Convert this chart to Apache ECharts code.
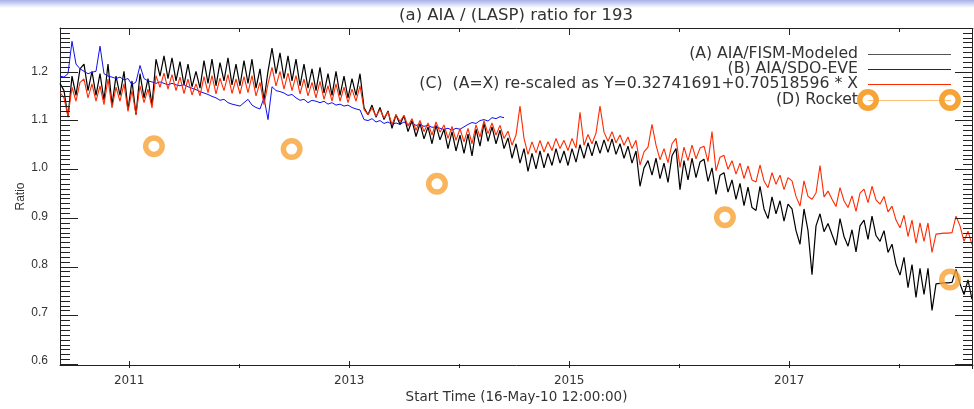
<!DOCTYPE html>
<html>
<head>
<meta charset="utf-8">
<script src="https://cdn.jsdelivr.net/npm/echarts@6/dist/echarts.min.js"></script>
<style>
  html, body { margin: 0; padding: 0; background: #ffffff; }
  #chart { width: 974px; height: 409px; }
</style>
</head>
<body>
<div id="chart"></div>
<script>
// Time base: decimal years, first sample at 16-May-2010 12:00:00
const START_YEAR = 2010.3712;
const STEP_YEARS = 0.036364;          // ~13.3 day cadence of the ratio series
const X_MIN = 2010.3712;
const X_MAX = 2018.6712;
const Y_MIN = 0.592;
const Y_MAX = 1.2896;

// (A) AIA / FISM-modeled ratio
const fismRatio = [
  1.175,1.160,1.105,1.190,1.150,1.205,1.215,1.160,1.200,1.150,
  1.195,1.140,1.215,1.130,1.190,1.150,1.200,1.120,1.180,1.110,
  1.195,1.145,1.185,1.130,1.225,1.190,1.232,1.185,1.228,1.180,
  1.220,1.172,1.215,1.168,1.200,1.165,1.222,1.175,1.225,1.170,
  1.218,1.180,1.228,1.172,1.215,1.170,1.222,1.175,1.225,1.165,
  1.205,1.140,1.200,1.248,1.195,1.238,1.185,1.232,1.180,1.225,
  1.170,1.215,1.165,1.205,1.160,1.208,1.155,1.195,1.150,1.200,
  1.150,1.190,1.145,1.185,1.150,1.195,1.125,1.110,1.130,1.105,
  1.125,1.100,1.118,1.082,1.110,1.090,1.108,1.075,1.098,1.065,
  1.092,1.060,1.085,1.050,1.088,1.058,1.080,1.040,1.075,1.035,
  1.068,1.030,1.070,1.025,1.080,1.045,1.092,1.055,1.085,1.050,
  1.078,1.040,1.062,1.020,1.050,1.010,1.040,0.993,1.030,0.998,
  1.035,1.000,1.030,1.005,1.040,1.010,1.035,1.005,1.040,1.012,
  1.048,1.020,1.052,1.025,1.056,1.030,1.058,1.032,1.060,1.028,
  1.050,1.020,1.045,1.010,1.035,0.962,1.000,1.015,0.985,1.020,
  0.978,1.010,0.970,1.025,1.040,0.955,1.015,0.975,1.020,0.980,
  1.012,1.018,0.972,1.000,0.945,0.985,0.990,0.950,0.975,0.935,
  0.968,0.922,0.960,0.918,0.912,0.962,0.915,0.895,0.940,0.905,
  0.932,0.890,0.925,0.915,0.870,0.842,0.915,0.870,0.779,0.880,
  0.905,0.868,0.885,0.862,0.840,0.895,0.858,0.838,0.872,0.826,
  0.880,0.892,0.852,0.900,0.860,0.848,0.870,0.825,0.842,0.800,
  0.778,0.815,0.752,0.800,0.732,0.792,0.738,0.792,0.705,0.760,
  0.761,0.762,0.762,0.763,0.790,0.760,0.738,0.768,0.728
];

// (B) AIA / SDO-EVE ratio (ends May 2014)
const eveRatio = [
  1.190,1.188,1.195,1.262,1.215,1.205,1.200,1.195,1.198,1.200,
  1.252,1.195,1.190,1.188,1.185,1.188,1.182,1.185,1.172,1.178,
  1.212,1.185,1.180,1.178,1.175,1.178,1.175,1.172,1.175,1.172,
  1.170,1.172,1.168,1.165,1.162,1.158,1.155,1.152,1.148,1.145,
  1.140,1.142,1.135,1.132,1.130,1.128,1.135,1.142,1.130,1.125,
  1.122,1.145,1.100,1.168,1.160,1.158,1.155,1.150,1.152,1.145,
  1.140,1.142,1.135,1.140,1.138,1.135,1.138,1.132,1.135,1.130,
  1.132,1.128,1.130,1.125,1.122,1.120,1.100,1.098,1.102,1.095,
  1.098,1.092,1.095,1.090,1.093,1.090,1.095,1.090,1.093,1.088,
  1.090,1.086,1.088,1.084,1.085,1.082,1.080,1.082,1.078,1.082,
  1.080,1.085,1.090,1.094,1.092,1.098,1.100,1.097,1.104,1.102,
  1.106,1.104
];

// (C) re-scaled ratio
const rescaledRatio = [
  1.156,1.145,1.107,1.167,1.138,1.177,1.184,1.145,1.174,1.138,
  1.170,1.131,1.184,1.124,1.167,1.138,1.174,1.117,1.160,1.110,
  1.170,1.135,1.163,1.124,1.191,1.167,1.196,1.163,1.193,1.160,
  1.188,1.154,1.184,1.151,1.174,1.149,1.189,1.156,1.191,1.153,
  1.186,1.160,1.193,1.154,1.184,1.153,1.189,1.156,1.191,1.149,
  1.177,1.131,1.174,1.208,1.170,1.200,1.163,1.196,1.160,1.191,
  1.153,1.184,1.149,1.177,1.145,1.179,1.142,1.170,1.138,1.174,
  1.138,1.167,1.135,1.163,1.138,1.170,1.121,1.110,1.124,1.107,
  1.121,1.103,1.116,1.090,1.110,1.096,1.109,1.086,1.102,1.078,
  1.098,1.075,1.093,1.068,1.095,1.074,1.089,1.061,1.086,1.057,
  1.081,1.054,1.082,1.050,1.089,1.064,1.098,1.071,1.093,1.068,
  1.088,1.061,1.076,1.047,1.068,1.128,1.061,1.028,1.054,1.031,
  1.057,1.033,1.054,1.036,1.061,1.040,1.057,1.036,1.061,1.041,
  1.115,1.047,1.069,1.050,1.072,1.128,1.074,1.055,1.075,1.052,
  1.068,1.047,1.064,1.040,1.057,1.006,1.033,1.043,1.090,1.047,
  1.017,1.040,1.011,1.050,1.061,1.001,1.043,1.015,1.047,1.019,
  1.041,1.045,1.013,1.075,0.994,1.022,1.026,0.997,1.015,0.987,
  1.010,0.978,1.004,0.975,0.971,1.006,0.973,0.959,0.990,0.966,
  0.985,0.955,0.980,0.973,0.941,0.921,0.973,0.941,0.935,0.948,
  1.005,0.940,0.952,0.935,0.920,0.959,0.932,0.918,0.942,0.910,
  0.948,0.956,0.928,0.962,0.934,0.925,0.941,0.909,0.921,0.892,
  0.876,0.902,0.858,0.892,0.844,0.886,0.848,0.886,0.825,0.863,
  0.864,0.865,0.865,0.866,0.900,0.880,0.848,0.869,0.841
];

// (D) Rocket under-flight calibrations
const rocketYears = [2011.225, 2012.477, 2013.798, 2016.416, 2018.462];
const rocketRatio = [1.045, 1.039, 0.967, 0.898, 0.769];

// Axis ticks
const yearLabels = [2011, 2013, 2015, 2017];
const yearMinor = [2012, 2014, 2016, 2018];
const ratioLabels = [0.6, 0.7, 0.8, 0.9, 1.0, 1.1, 1.2];

const legendNames = [
  '(A) AIA/FISM-Modeled',
  '(B) AIA/SDO-EVE',
  '(C)  (A=X) re-scaled as Y=0.32741691+0.70518596 * X',
  '(D) Rocket'
];

const ratioMinor = [];
for (let k = 60; k <= 128; k++) {
  if (k % 10 !== 0) ratioMinor.push(k / 100);
}

const toPairs = arr => arr.map((v, i) => [START_YEAR + i * STEP_YEARS, v]);

const INK = '#222222';
const TEXT = '#333333';
const ORANGE = '#f7a335';
const TEXT_FONT = 'DejaVu Sans, sans-serif';
const TICK_FONT = 'Liberation Sans, Arial, sans-serif';

// Plot box geometry (pixels)
const BOX = { left: 60, top: 28, width: 913, height: 340 };
const BOX_R = BOX.left + BOX.width, BOX_B = BOX.top + BOX.height;

const xAxes = [
  {
    type: 'value', min: X_MIN, max: X_MAX, position: 'bottom',
    axisLine: { show: true, onZero: false, lineStyle: { color: INK, width: 1 } },
    axisTick: { show: false },
    axisLabel: {
      show: true, customValues: yearLabels, margin: 10,
      formatter: v => String(Math.round(v)),
      color: TEXT, fontFamily: TEXT_FONT, fontSize: 12
    },
    splitLine: { show: false },
    name: 'Start Time (16-May-10 12:00:00)', nameLocation: 'middle',
    nameGap: 25, nameMoveOverlap: false,
    nameTextStyle: { color: TEXT, fontFamily: TEXT_FONT, fontSize: 13.5 }
  },
  {
    type: 'value', min: X_MIN, max: X_MAX, position: 'top',
    axisLine: { show: true, onZero: false, lineStyle: { color: INK, width: 1 } },
    axisTick: { show: false }, axisLabel: { show: false }, splitLine: { show: false }
  }
];

const yAxes = [
  {
    type: 'value', min: Y_MIN, max: Y_MAX, position: 'left',
    axisLine: { show: true, onZero: false, lineStyle: { color: INK, width: 1 } },
    axisTick: { show: false },
    axisLabel: {
      show: true, customValues: ratioLabels, margin: 12,
      formatter: v => v.toFixed(1),
      color: TEXT, fontFamily: TICK_FONT, fontSize: 12
    },
    splitLine: { show: false },
    name: 'Ratio', nameLocation: 'middle', nameGap: 33, nameMoveOverlap: false,
    nameTextStyle: { color: TEXT, fontFamily: TICK_FONT, fontSize: 12 }
  }
];

// Title, header band and legend block
const LEG_TEXT_X = 858, LEG_LINE_X1 = 868, LEG_LINE_X2 = 951;
const legRows = [54, 69, 84, 100];
const legColors = ['#555555', '#1010ee', '#ff2a00', '#ffc07a'];
const graphics = [
  {
    type: 'rect', silent: true, z: 0,
    shape: { x: 0, y: 0, width: 974, height: 8 },
    style: { fill: new echarts.graphic.LinearGradient(0, 0, 0, 1, [
      { offset: 0, color: '#a6b0e8' }, { offset: 1, color: '#ffffff' }]) }
  },
  {
    type: 'text', silent: true,
    style: { text: '(a) AIA / (LASP) ratio for 193', x: 516, y: 16,
             align: 'center', verticalAlign: 'middle',
             textAlign: 'center', textVerticalAlign: 'middle',
             font: '16.5px ' + TEXT_FONT, fill: TEXT }
  }
];
legendNames.forEach((name, k) => {
  const y = legRows[k];
  graphics.push({
    type: 'text', silent: true,
    style: { text: name, x: LEG_TEXT_X, y: y,
             align: 'right', verticalAlign: 'middle',
             textAlign: 'right', textVerticalAlign: 'middle',
             font: '15.7px ' + TEXT_FONT, fill: TEXT }
  });
  graphics.push({
    type: 'rect', silent: true,
    shape: { x: LEG_LINE_X1, y: y, width: LEG_LINE_X2 - LEG_LINE_X1, height: 1 },
    style: { fill: legColors[k] }
  });
});
[LEG_LINE_X1, LEG_LINE_X2 - 1].forEach(cx => {
  graphics.push({
    type: 'circle', silent: true, z: 10,
    shape: { cx: cx, cy: legRows[3], r: 8.2 },
    style: { fill: 'none', stroke: ORANGE, lineWidth: 5.5 }
  });
});

// Inward tick marks on all four sides of the box (drawn as 1px bars)
const xPix = v => BOX.left + (v - X_MIN) / (X_MAX - X_MIN) * BOX.width;
const yPix = v => BOX_B - (v - Y_MIN) / (Y_MAX - Y_MIN) * BOX.height;
function bar(x, y, w, h) {
  graphics.push({ type: 'rect', silent: true, z: 50,
                  shape: { x: x, y: y, width: w, height: h },
                  style: { fill: INK } });
}
function xTicks(values, len) {
  values.forEach(v => {
    const px = Math.round(xPix(v));
    bar(px, BOX_B - len, 1, len);
    bar(px, BOX.top, 1, len);
  });
}
function yTicks(values, len) {
  values.forEach(v => {
    const py = Math.round(yPix(v));
    bar(BOX.left, py, len, 1);
    bar(BOX_R - len, py, len, 1);
  });
}
xTicks(yearLabels, 7);
xTicks(yearMinor, 4);
yTicks(ratioLabels, 18);
yTicks(ratioMinor, 10);
bar(BOX_R - 1, BOX.top, 1, BOX.height + 1);   // right edge of the box

const chart = echarts.init(document.getElementById('chart'), null, { renderer: 'canvas' });
chart.setOption({
  backgroundColor: '#ffffff',
  animation: false,
  grid: { left: BOX.left, top: BOX.top, width: BOX.width, height: BOX.height, containLabel: false },
  xAxis: xAxes,
  yAxis: yAxes,
  graphic: { elements: graphics },
  series: [
    {
      name: legendNames[0], type: 'line', data: toPairs(fismRatio),
      showSymbol: false, symbol: 'none',
      lineStyle: { color: '#000000', width: 1.2 }, silent: true, z: 2
    },
    {
      name: legendNames[1], type: 'line', data: toPairs(eveRatio),
      showSymbol: false, symbol: 'none',
      lineStyle: { color: '#1010ee', width: 1 }, silent: true, z: 3
    },
    {
      name: legendNames[2], type: 'line', data: toPairs(rescaledRatio),
      showSymbol: false, symbol: 'none',
      lineStyle: { color: '#ff2a00', width: 1.1 }, silent: true, z: 4
    },
    {
      name: legendNames[3], type: 'scatter',
      data: rocketYears.map((t, i) => [t, rocketRatio[i]]),
      symbol: 'circle', symbolSize: 16.5,
      itemStyle: { color: 'rgba(0,0,0,0)', borderColor: ORANGE, borderWidth: 5.5 },
      silent: true, z: 5
    }
  ]
});
</script>
</body>
</html>
